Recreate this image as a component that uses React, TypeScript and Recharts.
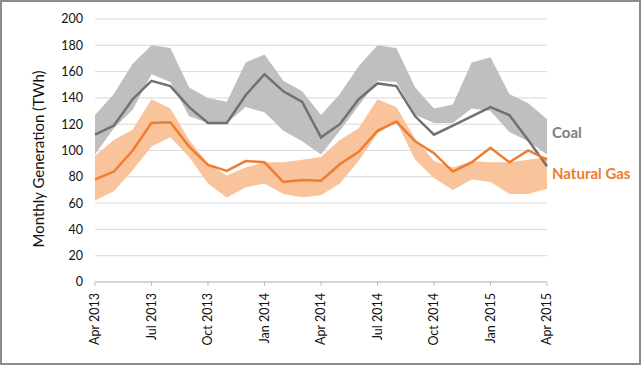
import { ComposedChart, Area, Line, XAxis, YAxis, CartesianGrid } from "recharts";

// Monthly generation, Apr 2013 – Apr 2015 (TWh)
const months = [
  "Apr 2013", "May 2013", "Jun 2013", "Jul 2013", "Aug 2013", "Sep 2013",
  "Oct 2013", "Nov 2013", "Dec 2013", "Jan 2014", "Feb 2014", "Mar 2014",
  "Apr 2014", "May 2014", "Jun 2014", "Jul 2014", "Aug 2014", "Sep 2014",
  "Oct 2014", "Nov 2014", "Dec 2014", "Jan 2015", "Feb 2015", "Mar 2015",
  "Apr 2015",
];

const coal = [112, 119, 139, 153, 149, 133, 121, 121, 142, 158, 145, 137, 110, 120, 139, 151, 149, 126, 112, 119, 126, 133, 127, 108, 88];
const coalHigh = [127, 143, 166, 180, 178, 148, 140, 137, 167, 173, 153, 145, 127, 143, 164, 180, 178, 148, 132, 135, 167, 171, 143, 136, 124];
const coalLow = [97, 117, 131, 158, 152, 126, 121, 121, 133, 129, 115, 107, 97, 115, 134, 153, 152, 127, 121, 121, 132, 130, 114, 107, 97];

const gas = [78, 84, 100, 121, 121.5, 103, 89, 84.5, 92, 91, 76, 77.5, 77, 89.5, 99, 115, 122, 107, 98, 84, 91, 102, 91, 100, 93];
const gasHigh = [96, 108, 116, 139, 132, 108, 90, 81, 87, 91, 91, 93, 95, 108, 117, 139, 133, 109, 92, 87, 92, 91, 91, 93, 95];
const gasLow = [62, 69, 85, 103, 110, 95, 75, 64, 72, 75, 67, 64.5, 66, 75, 92, 113, 122, 93, 79, 70, 78, 76, 67, 67, 71];

const xTicks = [0, 3, 6, 9, 12, 15, 18, 21, 24];
const yTicks = [0, 20, 40, 60, 80, 100, 120, 140, 160, 180, 200];

const data = months.map((m, i) => ({
  idx: i,
  month: m,
  coal: coal[i],
  coalRange: [coalLow[i], coalHigh[i]],
  gas: gas[i],
  gasRange: [gasLow[i], gasHigh[i]],
}));

const FONT = "Lato, 'Open Sans', sans-serif";

const MonthTick = (props: any) => {
  const { x, y, payload } = props;
  return (
    <g transform={`translate(${x},${y})`}>
      <text
        transform="rotate(-90)"
        textAnchor="end"
        dy="0.35em"
        fontSize={12.5}
        fontFamily={FONT}
        fill="#111"
      >
        {months[payload.value]}
      </text>
    </g>
  );
};

export default function App() {
  return (
    <div style={{ position: "fixed", left: 0, top: 0, width: 641, height: 365, background: "#fff" }}>
      <ComposedChart
        width={641}
        height={365}
        data={data}
        margin={{ top: 19, right: 94, left: 0, bottom: 0 }}
      >
        <CartesianGrid vertical={false} stroke="#d9d9d9" strokeWidth={1} />
        <XAxis
          dataKey="idx"
          type="number"
          domain={[0, 24]}
          ticks={xTicks}
          height={83}
          stroke="#bfbfbf"
          tickSize={4}
          tickMargin={7}
          tick={<MonthTick />}
          interval={0}
        />
        <YAxis
          domain={[0, 200]}
          ticks={yTicks}
          width={95}
          axisLine={false}
          tickLine={false}
          tickMargin={6}
          tick={{ fontSize: 12.5, fontFamily: FONT, fill: "#111" }}
        />
        <Area dataKey="coalRange" stroke="none" fill="#bfbfbf" fillOpacity={1} isAnimationActive={false} activeDot={false} />
        <Area dataKey="gasRange" stroke="none" fill="#f9c39c" fillOpacity={1} isAnimationActive={false} activeDot={false} />
        <Line dataKey="coal" stroke="#717171" strokeWidth={2.5} dot={false} activeDot={false} isAnimationActive={false} />
        <Line dataKey="gas" stroke="#ee7d31" strokeWidth={2.5} dot={false} activeDot={false} isAnimationActive={false} />
      </ComposedChart>
      <div
        style={{
          position: "absolute",
          left: 38,
          top: 159,
          transform: "translate(-50%, -50%) rotate(-90deg)",
          whiteSpace: "nowrap",
          fontFamily: FONT,
          fontSize: 15,
          color: "#111",
        }}
      >
        Monthly Generation (TWh)
      </div>
      <div
        style={{
          position: "absolute",
          left: 552,
          top: 132,
          transform: "translateY(-50%)",
          fontFamily: FONT,
          fontWeight: 700,
          fontSize: 15,
          color: "#7f7f7f",
          lineHeight: 1,
        }}
      >
        Coal
      </div>
      <div
        style={{
          position: "absolute",
          left: 552,
          top: 173,
          transform: "translateY(-50%)",
          fontFamily: FONT,
          fontWeight: 700,
          fontSize: 15,
          color: "#ee7d31",
          lineHeight: 1,
          whiteSpace: "nowrap",
        }}
      >
        Natural Gas
      </div>
      <div
        style={{
          position: "absolute",
          inset: 0,
          border: "2px solid #8c8c8c",
          boxSizing: "border-box",
          pointerEvents: "none",
        }}
      />
    </div>
  );
}
